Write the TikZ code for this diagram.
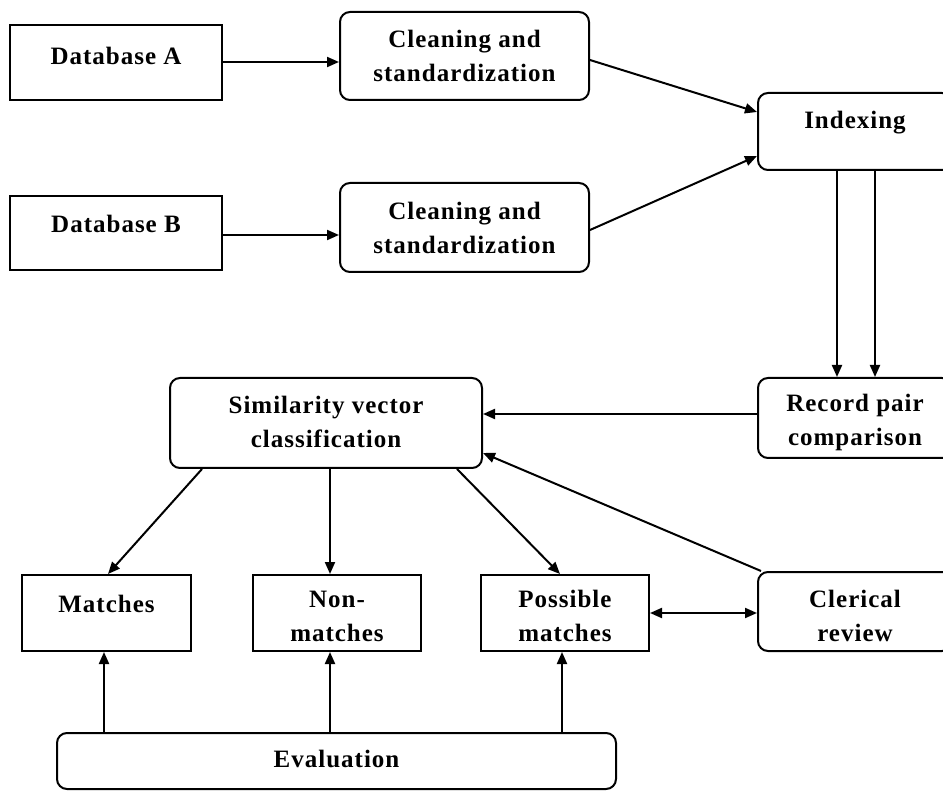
\documentclass[tikz,border=0pt]{standalone}
\usepackage{fontspec}
\setmainfont[LetterSpace=4]{Liberation Serif}
\usetikzlibrary{arrows.meta,calc}
\begin{document}
\begin{tikzpicture}[x=1pt,y=-1pt,
  sqbox/.style={draw=black,line width=2pt,rectangle,inner sep=0pt},
  rbox/.style={sqbox,rounded corners=10pt},
  lbl/.style={font=\fontsize{25}{34}\selectfont\bfseries,align=center,inner sep=0pt},
  arr/.style={line width=2pt,-{Triangle[length=12pt,width=10pt]}},
  darr/.style={line width=2pt,{Triangle[length=12pt,width=10pt]}-{Triangle[length=12pt,width=10pt]}}]
\useasboundingbox (0,0) rectangle (943,791);
\clip (0,0) rectangle (943,791);
% boxes
\node[sqbox,minimum width=212pt,minimum height=75pt] (dbA) at (116,62.5) {};
\node[sqbox,minimum width=212pt,minimum height=74pt] (dbB) at (116,233) {};
\node[rbox,minimum width=249pt,minimum height=88pt] (clA) at (464.5,56) {};
\node[rbox,minimum width=249pt,minimum height=89pt] (clB) at (464.5,227.5) {};
\node[rbox,minimum width=194pt,minimum height=77pt] (idx) at (855,131.5) {};
\node[rbox,minimum width=194pt,minimum height=80pt] (rpc) at (855,418) {};
\node[rbox,minimum width=312pt,minimum height=90pt] (svc) at (326,423) {};
\node[sqbox,minimum width=169pt,minimum height=76pt] (mat) at (106.5,613) {};
\node[sqbox,minimum width=168pt,minimum height=76pt] (non) at (337,613) {};
\node[sqbox,minimum width=168pt,minimum height=76pt] (pos) at (565,613) {};
\node[rbox,minimum width=194pt,minimum height=79pt] (cle) at (855,611.5) {};
\node[rbox,minimum width=559pt,minimum height=56pt] (eva) at (336.5,761) {};
% texts
\node[lbl] (tdbA) at (116,56) {Database A};
\node[lbl] (tdbB) at (116,224) {Database B};
\node[lbl] (tclA) at (464.5,56) {Cleaning and\\standardization};
\node[lbl] (tclB) at (464.5,228) {Cleaning and\\standardization};
\node[lbl] (tidx) at (855,123) {Indexing};
\node[lbl] (trpc) at (855,422) {Record pair\\comparison};
\node[lbl] (tsvc) at (326,422) {Similarity vector\\classification};
\node[lbl] (tmat) at (106.5,604) {Matches};
\node[lbl] (tnon) at (337,616) {Non-\\matches};
\node[lbl] (tpos) at (565,616) {Possible\\matches};
\node[lbl] (tcle) at (855,616) {Clerical\\review};
\node[lbl] (teva) at (336.5,759) {Evaluation};
% connectors
\draw[arr] ([yshift=0.5pt]dbA.east) -- ([yshift=0.5pt]dbA.east -| clA.west);
\draw[arr] ([yshift=-2pt]dbB.east) -- ([yshift=-2pt]dbB.east -| clB.west);
\draw[arr] ([yshift=-4pt]clA.east) -- ([yshift=19.5pt]idx.west);
\draw[arr] ([yshift=-2.5pt]clB.east) -- ([yshift=-24.5pt]idx.west);
\draw[arr] ([xshift=-18pt]idx.south) -- ([xshift=-18pt]rpc.north);
\draw[arr] ([xshift=20pt]idx.south) -- ([xshift=20pt]rpc.north);
\draw[arr] ([yshift=4pt]rpc.west) -- ([yshift=4pt]rpc.west -| svc.east);
\draw[arr] ([xshift=-124pt]svc.south) -- ([xshift=1.5pt]mat.north);
\draw[arr] ([xshift=4pt]svc.south) -- ([xshift=-7pt]non.north);
\draw[arr] ([xshift=131pt]svc.south) -- ([xshift=-5pt]pos.north);
\draw[arr] ([xshift=4pt]cle.north west) -- ([yshift=-30pt]svc.east);
\draw[darr] (pos.east) -- (pos.east -| cle.west);
\draw[arr] ([xshift=-232.5pt]eva.north) -- ([xshift=-2.5pt]mat.south);
\draw[arr] ([xshift=-6.5pt]eva.north) -- ([xshift=-7pt]non.south);
\draw[arr] ([xshift=225.5pt]eva.north) -- ([xshift=-3pt]pos.south);
\end{tikzpicture}
\end{document}
